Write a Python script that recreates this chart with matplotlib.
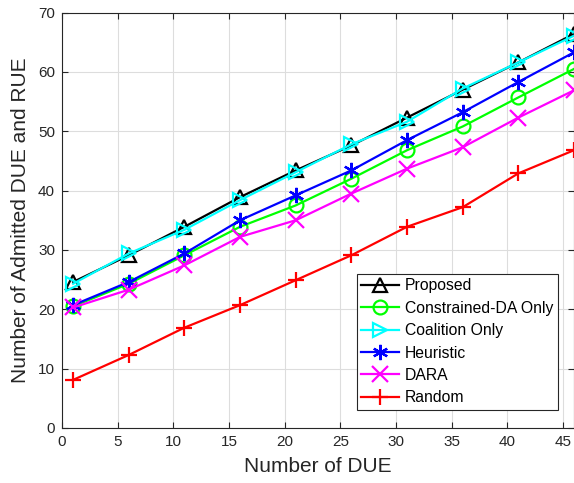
import numpy as np
import matplotlib.pyplot as plt

plt.rcParams['font.family'] = ['Liberation Sans', 'DejaVu Sans']

# Number of DUE
num_due = [1, 6, 11, 16, 21, 26, 31, 36, 41, 46]

# Admitted DUE + RUE for each scheme
proposed = [24.6, 29.1, 33.9, 38.9, 43.4, 47.6, 52.3, 57.0, 61.6, 66.4]
constrained_da = [20.5, 24.3, 29.1, 33.9, 37.5, 42.0, 46.8, 50.8, 55.7, 60.5]
coalition = [24.3, 29.4, 33.4, 38.4, 43.1, 47.8, 51.6, 57.2, 61.6, 66.1]
heuristic = [20.7, 24.6, 29.4, 35.0, 39.2, 43.4, 48.5, 53.2, 58.3, 63.3]
dara = [20.3, 23.3, 27.4, 32.2, 35.0, 39.5, 43.7, 47.3, 52.3, 56.9]
random_alloc = [8.1, 12.3, 16.9, 20.7, 24.9, 29.1, 33.9, 37.2, 42.9, 46.8]

asterisk = (6, 2, 0)
series = [
    ('Proposed', proposed, (0, 0, 0), '^'),
    ('Constrained-DA Only', constrained_da, (0, 1, 0), 'o'),
    ('Coalition Only', coalition, (0, 1, 1), '>'),
    ('Heuristic', heuristic, (0, 0, 1), asterisk),
    ('DARA', dara, (1, 0, 1), 'x'),
    ('Random', random_alloc, (1, 0, 0), '+'),
]

fig = plt.figure(figsize=(5.74, 4.83), dpi=100)
ax = fig.add_axes([0.108, 0.114, 0.892, 0.860])

for label, vals, color, marker in series:
    ax.plot(num_due, vals, color=color, marker=marker, linewidth=1.6,
            markersize=11 if marker in (asterisk, '+', 'x') else 10,
            markerfacecolor='none', markeredgecolor=color,
            markeredgewidth=1.6, label=label)

ax.set_xlim(0, 46)
ax.set_ylim(0, 70)
ax.set_xticks(range(0, 46, 5))
ax.set_yticks(range(0, 71, 10))
ax.grid(True, color='#dddddd', linewidth=0.8)
ax.set_axisbelow(True)
ax.tick_params(direction='in', top=True, right=True, labelsize=11,
               colors='#262626', length=4, pad=5)
for s in ax.spines.values():
    s.set_color('#262626')
    s.set_linewidth(0.8)

ax.set_xlabel('Number of DUE', fontsize=15, color='#262626', labelpad=6)
ax.set_ylabel('Number of Admitted DUE and RUE', fontsize=15, color='#262626', labelpad=6)

leg = ax.legend(loc='lower right', bbox_to_anchor=(0.968, 0.043), fontsize=11.3,
                fancybox=False, framealpha=1, edgecolor='#262626',
                handlelength=2.4, borderpad=0.3, labelspacing=0.47,
                handletextpad=0.35, borderaxespad=0)
leg.get_frame().set_linewidth(0.8)

fig.savefig('out.png', dpi=100)
